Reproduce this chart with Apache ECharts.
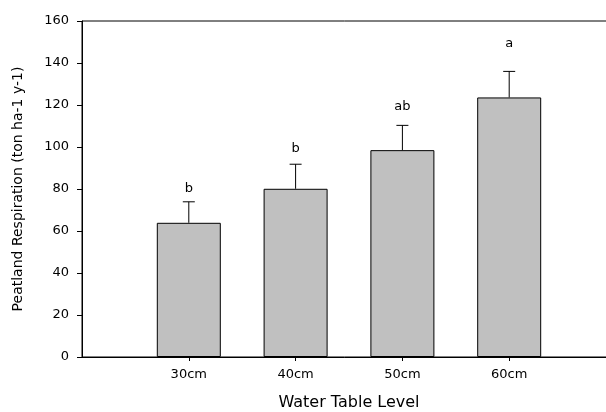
<!DOCTYPE html>
<html>
<head>
<meta charset="utf-8">
<script src="https://cdn.jsdelivr.net/npm/echarts@6/dist/echarts.min.js"></script>
<style>
  html, body { margin: 0; padding: 0; background: #fff; }
  #main { width: 606px; height: 412px; }
</style>
</head>
<body>
<div id="main"></div>
<script>
// data
var categories = ['30cm', '40cm', '50cm', '60cm'];
var respiration = [63.9, 80.1, 98.5, 123.6];
var errUpper = [73.9, 91.8, 110.3, 136.0];
var letters = ['b', 'b', 'ab', 'a'];
var letterY = [80, 99, 119, 149];
var yTicks = [0, 20, 40, 60, 80, 100, 120, 140, 160];

// pad the axis with an empty slot on each side
var axisData = [''].concat(categories).concat(['']);
var barData = [null].concat(respiration).concat([null]);

var errData = [];
var letterData = [];
for (var i = 0; i < categories.length; i++) {
    errData.push([i + 1, respiration[i], errUpper[i]]);
    letterData.push([i + 1, letterY[i], letters[i]]);
}

var myChart = echarts.init(document.getElementById('main'));
var font = 'DejaVu Sans';

option = {
    animation: false,
    grid: {
        left: 82, right: -10, top: 21, bottom: 55,
        outerBoundsMode: 'none',
        containLabel: false,
        show: true, borderColor: '#000', borderWidth: 1
    },
    xAxis: {
        type: 'category',
        data: axisData,
        boundaryGap: false,
        name: 'Water Table Level',
        nameLocation: 'middle',
        nameGap: 38,
        nameTextStyle: { fontFamily: font, fontSize: 16, color: '#000' },
        axisLine: { lineStyle: { color: '#000', width: 1 } },
        axisTick: {
            length: 4,
            lineStyle: { color: '#000' },
            interval: function(idx) { return idx > 0 && idx < axisData.length - 1; }
        },
        axisLabel: {
            interval: 0, margin: 11,
            fontFamily: font, fontSize: 13, color: '#000'
        },
        splitLine: { show: false }
    },
    yAxis: {
        type: 'value',
        min: yTicks[0],
        max: yTicks[yTicks.length - 1],
        interval: 20,
        name: 'Peatland Respiration (ton ha-1 y-1)',
        nameLocation: 'middle',
        nameGap: 57,
        nameTextStyle: { fontFamily: font, fontSize: 14, color: '#000' },
        axisLine: { show: true, lineStyle: { color: '#000', width: 1 } },
        axisTick: { show: true, length: 5, lineStyle: { color: '#000' } },
        axisLabel: { margin: 13, fontFamily: font, fontSize: 13, color: '#000' },
        splitLine: { show: false }
    },
    series: [{
        type: 'bar',
        data: barData,
        barWidth: 64,
        itemStyle: { color: '#c0c0c0', borderColor: '#000', borderWidth: 1 }
    }, {
        type: 'custom',
        data: errData,
        renderItem: function(params, api) {
            var base = api.coord([api.value(0), api.value(1)]);
            var top = api.coord([api.value(0), api.value(2)]);
            var half = 6;
            var st = { stroke: '#000', lineWidth: 1 };
            return {
                type: 'group',
                children: [
                    { type: 'line', shape: { x1: base[0], y1: base[1], x2: top[0], y2: top[1] }, style: st },
                    { type: 'line', shape: { x1: top[0] - half, y1: top[1], x2: top[0] + half, y2: top[1] }, style: st }
                ]
            };
        },
        z: 5
    }, {
        type: 'custom',
        data: letterData,
        renderItem: function(params, api) {
            var p = api.coord([api.value(0), api.value(1)]);
            return {
                type: 'text',
                x: p[0], y: p[1],
                style: {
                    text: letters[params.dataIndex],
                    fontFamily: font, fontSize: 13, fill: '#000',
                    align: 'center', verticalAlign: 'middle'
                }
            };
        },
        z: 5
    }]
};
myChart.setOption(option);
</script>
</body>
</html>
